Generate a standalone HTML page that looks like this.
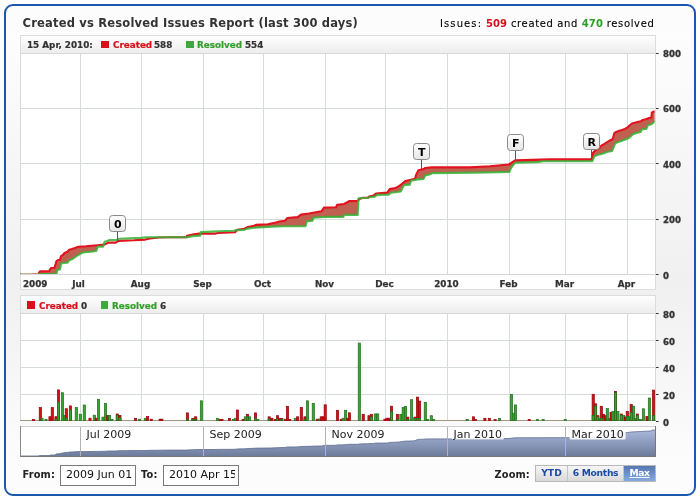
<!DOCTYPE html>
<html><head><meta charset="utf-8"><title>Created vs Resolved Issues Report</title>
<style>
*{margin:0;padding:0;box-sizing:border-box}
html,body{width:700px;height:500px;background:#fff;overflow:hidden}
body{position:relative;font-family:"DejaVu Sans","Liberation Sans",sans-serif;color:#333}
#panel{position:absolute;left:4px;top:4px;width:692px;height:492px;border:2px solid #1a58ad;border-radius:9px;background:#fcfcfc;overflow:hidden}
#cbg{position:absolute;left:0;top:26px;width:688px;height:430px;background:linear-gradient(#fdfdfd,#f0f0f0 58%,#fcfcfc)}
.chart{position:absolute;left:0;top:0}
.chart text{font-family:"DejaVu Sans","Liberation Sans",sans-serif}
.xl{font-size:8.8px;font-weight:bold;fill:#333;stroke:#333;stroke-width:0.25px}
.yl{font-size:8.6px;font-weight:bold;fill:#333;stroke:#333;stroke-width:0.3px}
.nl{font-size:11px;fill:#222}
.flg{font-size:11px;font-weight:bold;fill:#000}
.t{position:absolute;white-space:nowrap}
#title{left:22.5px;top:16px;font-size:11.5px;font-weight:bold;color:#333;letter-spacing:0.2px}
#issues{left:440px;top:17.6px;font-size:10px;color:#000;letter-spacing:0.63px;-webkit-text-stroke:0.1px #000}
#issues b{letter-spacing:0.1px;-webkit-text-stroke:0}#issues b.r{color:#d8101c}
#issues b.g{color:#2e9e2a}
.hl{font-size:8.8px;font-weight:bold;color:#333;-webkit-text-stroke:0.2px currentColor}
.sq{display:inline-block;width:7px;height:7px;vertical-align:0}
.cr{color:#d8101c}.gr{color:#34a02c}
.lbl{font-size:9.8px;font-weight:bold;color:#222;letter-spacing:0.15px}
.inp{position:absolute;height:21px;top:465px;border:1px solid #7a7a7a;background:#fff;font-family:"DejaVu Sans","Liberation Sans",sans-serif;font-size:11px;color:#111;padding:0 3px 2px 5px;outline:none;border-radius:0;appearance:none;-webkit-appearance:none}
#zb{position:absolute;left:535px;top:465px;height:17px;width:121px;border:1px solid #b8b8b8;display:flex}
#zb div{height:15px;background:linear-gradient(#f6f6f6,#d9d9d9);font-size:9.2px;font-weight:bold;color:#1b4aa5;text-align:center;line-height:13px}
#zb .sel{background:linear-gradient(#5577b2,#84aae0);color:#fff;text-decoration:underline}
</style></head><body>
<div id="panel"><div id="cbg"></div></div>
<svg class="chart" width="700" height="500" viewBox="0 0 700 500">
<defs>
<linearGradient id="hdr" x1="0" y1="0" x2="0" y2="1"><stop offset="0" stop-color="#ffffff"/><stop offset="1" stop-color="#ececec"/></linearGradient>
<linearGradient id="nav" x1="0" y1="0" x2="0" y2="1"><stop offset="0" stop-color="#a9b8dc"/><stop offset="1" stop-color="#6e7c9c"/></linearGradient>
<linearGradient id="flag" x1="0" y1="0" x2="0" y2="1"><stop offset="0" stop-color="#ffffff"/><stop offset="1" stop-color="#e6e6e6"/></linearGradient>
<mask id="fm" maskUnits="userSpaceOnUse" x="0" y="0" width="700" height="500">
<polygon fill="#fff" points="20.0,274.0 38.0,274.0 40.0,271.4 49.0,271.2 51.0,268.0 54.5,267.8 56.5,261.0 58.0,260.0 60.0,259.8 61.0,256.2 63.0,255.0 64.5,253.0 67.5,251.8 69.2,249.8 72.0,249.0 75.0,248.0 78.3,246.7 86.0,246.2 97.4,245.2 104.3,244.6 106.0,243.7 108.9,242.6 115.7,242.6 118.6,240.9 134.0,240.3 145.3,239.6 150.0,238.5 159.0,237.5 170.0,237.3 186.6,237.3 187.0,235.9 194.0,234.4 199.7,233.6 215.7,233.6 218.0,233.0 235.0,232.3 237.4,229.8 244.3,228.7 247.9,227.0 254.1,225.7 255.9,224.9 267.9,224.2 270.1,223.7 277.0,222.3 279.3,221.5 285.0,220.8 287.3,218.0 297.6,217.1 301.0,214.6 309.0,213.5 315.9,212.3 321.6,211.2 324.0,207.6 336.0,207.2 337.1,204.9 344.0,204.0 347.4,202.3 349.1,201.1 357.7,201.0 359.4,198.9 363.0,197.7 368.0,197.7 369.1,196.6 373.7,195.4 376.0,193.5 387.4,192.6 389.7,189.1 395.4,188.0 397.7,186.9 399.6,185.7 405.3,181.1 409.9,180.0 415.0,178.9 416.1,174.9 418.4,170.3 423.6,169.1 425.3,168.0 431.6,167.4 470.0,167.4 490.0,166.2 508.9,164.5 515.1,160.4 550.0,159.4 591.6,159.4 592.8,153.0 595.2,150.6 599.2,148.2 601.6,145.4 604.0,144.2 607.2,142.2 610.4,140.2 612.8,139.0 614.4,133.0 616.8,131.8 620.0,130.6 621.2,130.2 624.8,128.9 627.5,127.5 629.8,125.3 632.0,123.5 635.6,122.6 638.3,121.7 641.0,121.2 642.8,119.9 646.4,119.0 649.1,118.1 651.4,117.6 651.8,112.7 653.6,111.5 656.0,111.5 656,274 20,274"/>
<polygon fill="#000" points="20.0,274.0 56.4,274.0 57.6,269.8 60.0,269.4 61.2,263.4 63.6,263.0 67.6,262.6 69.2,260.2 72.6,259.0 76.0,256.4 82.9,252.4 93.1,251.5 96.3,251.0 97.7,246.6 103.1,246.6 104.6,241.7 107.1,241.1 109.4,240.0 116.9,240.0 119.1,238.7 140.7,237.9 146.4,237.2 186.6,237.2 192.9,236.1 200.3,235.6 200.9,232.1 218.0,231.3 234.0,230.8 236.3,230.1 244.3,229.9 247.3,228.6 254.1,227.8 267.9,226.9 282.7,226.3 305.6,226.1 306.7,221.5 312.4,220.8 313.6,217.7 325.0,216.9 343.4,216.9 343.9,214.9 357.7,214.9 358.5,198.3 368.0,197.7 370.3,197.1 374.9,196.6 377.1,194.9 388.6,194.6 390.9,192.8 397.7,192.0 400.7,191.4 404.1,185.1 409.9,184.6 411.0,180.6 417.9,179.4 423.6,178.9 425.3,175.4 430.4,174.3 432.1,173.1 475.0,172.6 509.4,171.9 511.1,167.9 515.1,162.7 537.4,162.1 543.1,161.3 592.4,161.1 594.4,156.2 597.6,155.0 602.4,153.8 605.6,152.6 608.0,151.8 612.0,151.0 613.6,147.4 615.2,143.4 617.6,142.2 621.2,141.0 624.8,139.7 628.4,138.3 631.1,136.1 632.9,134.3 636.5,132.9 640.6,132.0 641.9,129.3 646.4,128.9 647.8,125.3 651.0,124.4 653.6,122.6 656.0,121.2 656,274 20,274"/>
</mask>
<clipPath id="pc"><rect x="20" y="53" width="634.6" height="221.5"/></clipPath>
</defs>
<rect x="20.5" y="35.5" width="635" height="18" fill="url(#hdr)" stroke="#dcdcdc"/>
<rect x="20" y="53" width="636" height="221" fill="#fff"/>
<line x1="80.5" y1="53" x2="80.5" y2="274" stroke="#d6ddd8" stroke-width="1"/>
<line x1="141.5" y1="53" x2="141.5" y2="274" stroke="#d6ddd8" stroke-width="1"/>
<line x1="203.5" y1="53" x2="203.5" y2="274" stroke="#d6ddd8" stroke-width="1"/>
<line x1="263.5" y1="53" x2="263.5" y2="274" stroke="#d6ddd8" stroke-width="1"/>
<line x1="325.5" y1="53" x2="325.5" y2="274" stroke="#d6ddd8" stroke-width="1"/>
<line x1="385.5" y1="53" x2="385.5" y2="274" stroke="#d6ddd8" stroke-width="1"/>
<line x1="447.5" y1="53" x2="447.5" y2="274" stroke="#d6ddd8" stroke-width="1"/>
<line x1="509.5" y1="53" x2="509.5" y2="274" stroke="#d6ddd8" stroke-width="1"/>
<line x1="565.5" y1="53" x2="565.5" y2="274" stroke="#d6ddd8" stroke-width="1"/>
<line x1="627.5" y1="53" x2="627.5" y2="274" stroke="#d6ddd8" stroke-width="1"/>
<line x1="20" y1="219.5" x2="656" y2="219.5" stroke="#d6ddd8" stroke-width="1"/>
<line x1="20" y1="163.5" x2="656" y2="163.5" stroke="#d6ddd8" stroke-width="1"/>
<line x1="20" y1="108.5" x2="656" y2="108.5" stroke="#d6ddd8" stroke-width="1"/>
<line x1="20" y1="53.5" x2="656" y2="53.5" stroke="#d8d8d8"/>
<line x1="20.5" y1="53" x2="20.5" y2="274" stroke="#d8d8d8"/>
<line x1="655.5" y1="53" x2="655.5" y2="274" stroke="#d8d8d8"/>
<rect x="20" y="53" width="634.6" height="221" fill="#c06050" mask="url(#fm)"/>
<g clip-path="url(#pc)" fill="none" stroke-linejoin="round" stroke-linecap="butt">
<polyline points="20.0,274.0 38.0,274.0 40.0,271.4 49.0,271.2 51.0,268.0 54.5,267.8 56.5,261.0 58.0,260.0 60.0,259.8 61.0,256.2 63.0,255.0 64.5,253.0 67.5,251.8 69.2,249.8 72.0,249.0 75.0,248.0 78.3,246.7 86.0,246.2 97.4,245.2 104.3,244.6 106.0,243.7 108.9,242.6 115.7,242.6 118.6,240.9 134.0,240.3 145.3,239.6 150.0,238.5 159.0,237.5 170.0,237.3 186.6,237.3 187.0,235.9 194.0,234.4 199.7,233.6 215.7,233.6 218.0,233.0 235.0,232.3 237.4,229.8 244.3,228.7 247.9,227.0 254.1,225.7 255.9,224.9 267.9,224.2 270.1,223.7 277.0,222.3 279.3,221.5 285.0,220.8 287.3,218.0 297.6,217.1 301.0,214.6 309.0,213.5 315.9,212.3 321.6,211.2 324.0,207.6 336.0,207.2 337.1,204.9 344.0,204.0 347.4,202.3 349.1,201.1 357.7,201.0 359.4,198.9 363.0,197.7 368.0,197.7 369.1,196.6 373.7,195.4 376.0,193.5 387.4,192.6 389.7,189.1 395.4,188.0 397.7,186.9 399.6,185.7 405.3,181.1 409.9,180.0 415.0,178.9 416.1,174.9 418.4,170.3 423.6,169.1 425.3,168.0 431.6,167.4 470.0,167.4 490.0,166.2 508.9,164.5 515.1,160.4 550.0,159.4 591.6,159.4 592.8,153.0 595.2,150.6 599.2,148.2 601.6,145.4 604.0,144.2 607.2,142.2 610.4,140.2 612.8,139.0 614.4,133.0 616.8,131.8 620.0,130.6 621.2,130.2 624.8,128.9 627.5,127.5 629.8,125.3 632.0,123.5 635.6,122.6 638.3,121.7 641.0,121.2 642.8,119.9 646.4,119.0 649.1,118.1 651.4,117.6 651.8,112.7 653.6,111.5 656.0,111.5" stroke="#e2131f" stroke-width="2.1"/>
<polyline points="20.0,274.0 56.4,274.0 57.6,269.8 60.0,269.4 61.2,263.4 63.6,263.0 67.6,262.6 69.2,260.2 72.6,259.0 76.0,256.4 82.9,252.4 93.1,251.5 96.3,251.0 97.7,246.6 103.1,246.6 104.6,241.7 107.1,241.1 109.4,240.0 116.9,240.0 119.1,238.7 140.7,237.9 146.4,237.2 186.6,237.2 192.9,236.1 200.3,235.6 200.9,232.1 218.0,231.3 234.0,230.8 236.3,230.1 244.3,229.9 247.3,228.6 254.1,227.8 267.9,226.9 282.7,226.3 305.6,226.1 306.7,221.5 312.4,220.8 313.6,217.7 325.0,216.9 343.4,216.9 343.9,214.9 357.7,214.9 358.5,198.3 368.0,197.7 370.3,197.1 374.9,196.6 377.1,194.9 388.6,194.6 390.9,192.8 397.7,192.0 400.7,191.4 404.1,185.1 409.9,184.6 411.0,180.6 417.9,179.4 423.6,178.9 425.3,175.4 430.4,174.3 432.1,173.1 475.0,172.6 509.4,171.9 511.1,167.9 515.1,162.7 537.4,162.1 543.1,161.3 592.4,161.1 594.4,156.2 597.6,155.0 602.4,153.8 605.6,152.6 608.0,151.8 612.0,151.0 613.6,147.4 615.2,143.4 617.6,142.2 621.2,141.0 624.8,139.7 628.4,138.3 631.1,136.1 632.9,134.3 636.5,132.9 640.6,132.0 641.9,129.3 646.4,128.9 647.8,125.3 651.0,124.4 653.6,122.6 656.0,121.2" stroke="#36b236" stroke-opacity="0.86" stroke-width="2.1"/>
</g>
<rect x="21" y="272.6" width="17" height="1.6" fill="#ffffff"/>
<rect x="21" y="273" width="11" height="1.2" fill="#c8b890"/>
<rect x="32" y="273" width="6.5" height="1.2" fill="#c89070"/>
<line x1="117.5" y1="231.5" x2="117.5" y2="241.5" stroke="#555" stroke-width="1"/>
<rect x="109.5" y="215.5" width="16" height="16" rx="3" ry="3" fill="url(#flag)" stroke="#8a8a8a" stroke-width="1"/>
<text x="117.8" y="228.1" class="flg" text-anchor="middle">0</text>
<line x1="421.5" y1="159.5" x2="421.5" y2="170.0" stroke="#555" stroke-width="1"/>
<rect x="413.5" y="143.5" width="16" height="16" rx="3" ry="3" fill="url(#flag)" stroke="#8a8a8a" stroke-width="1"/>
<text x="421.8" y="156.1" class="flg" text-anchor="middle">T</text>
<line x1="515.5" y1="150.5" x2="515.5" y2="160.5" stroke="#555" stroke-width="1"/>
<rect x="507.5" y="134.5" width="16" height="16" rx="3" ry="3" fill="url(#flag)" stroke="#8a8a8a" stroke-width="1"/>
<text x="515.8" y="147.1" class="flg" text-anchor="middle">F</text>
<line x1="591.5" y1="149.5" x2="591.5" y2="159.0" stroke="#555" stroke-width="1"/>
<rect x="583.5" y="133.5" width="16" height="16" rx="3" ry="3" fill="url(#flag)" stroke="#8a8a8a" stroke-width="1"/>
<text x="591.8" y="146.1" class="flg" text-anchor="middle">R</text>
<rect x="20.5" y="274.5" width="635" height="15" fill="#fff" stroke="#dcdcdc"/>
<line x1="20" y1="274.5" x2="656" y2="274.5" stroke="#d6d6d6"/>
<text x="23" y="287" class="xl">2009</text>
<text x="78.5" y="287" class="xl" text-anchor="middle">Jul</text>
<text x="140.5" y="287" class="xl" text-anchor="middle">Aug</text>
<text x="202.5" y="287" class="xl" text-anchor="middle">Sep</text>
<text x="262.5" y="287" class="xl" text-anchor="middle">Oct</text>
<text x="324.5" y="287" class="xl" text-anchor="middle">Nov</text>
<text x="384.5" y="287" class="xl" text-anchor="middle">Dec</text>
<text x="446.5" y="287" class="xl" text-anchor="middle">2010</text>
<text x="508.5" y="287" class="xl" text-anchor="middle">Feb</text>
<text x="564.5" y="287" class="xl" text-anchor="middle">Mar</text>
<text x="626.5" y="287" class="xl" text-anchor="middle">Apr</text>
<line x1="656" y1="274.5" x2="658.6" y2="274.5" stroke="#333" stroke-width="1"/>
<text x="663" y="279.0" class="yl">0</text>
<line x1="656" y1="219.5" x2="658.6" y2="219.5" stroke="#333" stroke-width="1"/>
<text x="663" y="223.0" class="yl">200</text>
<line x1="656" y1="163.5" x2="658.6" y2="163.5" stroke="#333" stroke-width="1"/>
<text x="663" y="168.0" class="yl">400</text>
<line x1="656" y1="108.5" x2="658.6" y2="108.5" stroke="#333" stroke-width="1"/>
<text x="663" y="112.0" class="yl">600</text>
<line x1="656" y1="53.5" x2="658.6" y2="53.5" stroke="#333" stroke-width="1"/>
<text x="663" y="57.0" class="yl">800</text>
<rect x="20.5" y="295.5" width="635" height="18" fill="url(#hdr)" stroke="#dcdcdc"/>
<rect x="20" y="313" width="636" height="108" fill="#fff"/>
<line x1="80.5" y1="313" x2="80.5" y2="421" stroke="#d6ddd8"/>
<line x1="141.5" y1="313" x2="141.5" y2="421" stroke="#d6ddd8"/>
<line x1="203.5" y1="313" x2="203.5" y2="421" stroke="#d6ddd8"/>
<line x1="263.5" y1="313" x2="263.5" y2="421" stroke="#d6ddd8"/>
<line x1="325.5" y1="313" x2="325.5" y2="421" stroke="#d6ddd8"/>
<line x1="385.5" y1="313" x2="385.5" y2="421" stroke="#d6ddd8"/>
<line x1="447.5" y1="313" x2="447.5" y2="421" stroke="#d6ddd8"/>
<line x1="509.5" y1="313" x2="509.5" y2="421" stroke="#d6ddd8"/>
<line x1="565.5" y1="313" x2="565.5" y2="421" stroke="#d6ddd8"/>
<line x1="627.5" y1="313" x2="627.5" y2="421" stroke="#d6ddd8"/>
<line x1="20" y1="394.5" x2="656" y2="394.5" stroke="#d6ddd8"/>
<line x1="20" y1="367.5" x2="656" y2="367.5" stroke="#d6ddd8"/>
<line x1="20" y1="340.5" x2="656" y2="340.5" stroke="#d6ddd8"/>
<line x1="20" y1="313.5" x2="656" y2="313.5" stroke="#d6ddd8"/>
<line x1="20" y1="313.5" x2="656" y2="313.5" stroke="#d8d8d8"/>
<line x1="20.5" y1="313" x2="20.5" y2="421" stroke="#d8d8d8"/>
<line x1="655.5" y1="313" x2="655.5" y2="421" stroke="#d8d8d8"/>
<line x1="20" y1="420.5" x2="656" y2="420.5" stroke="#a09a80"/>
<rect x="32.6" y="419.5" width="2.2" height="1.1" fill="#d01018" stroke="#980008" stroke-width="0.7"/>
<rect x="39.2" y="407.6" width="2.2" height="13.0" fill="#d01018" stroke="#980008" stroke-width="0.7"/>
<rect x="40.9" y="418.2" width="2.2" height="2.4" fill="#3aa233" stroke="#1f7019" stroke-width="0.7"/>
<rect x="44.9" y="419.3" width="2.2" height="1.3" fill="#3aa233" stroke="#1f7019" stroke-width="0.7"/>
<rect x="48.9" y="416.7" width="2.2" height="3.9" fill="#d01018" stroke="#980008" stroke-width="0.7"/>
<rect x="51.2" y="407.6" width="2.2" height="13.0" fill="#d01018" stroke="#980008" stroke-width="0.7"/>
<rect x="54.9" y="416.7" width="2.2" height="3.9" fill="#d01018" stroke="#980008" stroke-width="0.7"/>
<rect x="54.9" y="419.0" width="2.2" height="1.6" fill="#3aa233" stroke="#1f7019" stroke-width="0.7"/>
<rect x="57.4" y="389.9" width="2.2" height="30.7" fill="#d01018" stroke="#980008" stroke-width="0.7"/>
<rect x="57.4" y="402.1" width="2.2" height="18.5" fill="#3aa233" stroke="#1f7019" stroke-width="0.7"/>
<rect x="61.4" y="392.7" width="2.2" height="27.9" fill="#3aa233" stroke="#1f7019" stroke-width="0.7"/>
<rect x="63.7" y="415.6" width="2.2" height="5.0" fill="#3aa233" stroke="#1f7019" stroke-width="0.7"/>
<rect x="65.2" y="408.7" width="2.2" height="11.9" fill="#d01018" stroke="#980008" stroke-width="0.7"/>
<rect x="65.2" y="418.4" width="2.2" height="2.2" fill="#3aa233" stroke="#1f7019" stroke-width="0.7"/>
<rect x="69.3" y="405.9" width="2.2" height="14.7" fill="#d01018" stroke="#980008" stroke-width="0.7"/>
<rect x="69.3" y="409.9" width="2.2" height="10.7" fill="#3aa233" stroke="#1f7019" stroke-width="0.7"/>
<rect x="75.2" y="407.6" width="2.2" height="13.0" fill="#3aa233" stroke="#1f7019" stroke-width="0.7"/>
<rect x="79.2" y="414.2" width="2.2" height="6.4" fill="#3aa233" stroke="#1f7019" stroke-width="0.7"/>
<rect x="83.2" y="405.0" width="2.2" height="15.6" fill="#3aa233" stroke="#1f7019" stroke-width="0.7"/>
<rect x="88.9" y="418.2" width="2.2" height="2.4" fill="#d01018" stroke="#980008" stroke-width="0.7"/>
<rect x="93.2" y="415.2" width="2.2" height="5.4" fill="#3aa233" stroke="#1f7019" stroke-width="0.7"/>
<rect x="95.2" y="418.2" width="2.2" height="2.4" fill="#d01018" stroke="#980008" stroke-width="0.7"/>
<rect x="97.4" y="399.3" width="2.2" height="21.3" fill="#3aa233" stroke="#1f7019" stroke-width="0.7"/>
<rect x="101.9" y="417.1" width="2.2" height="3.5" fill="#3aa233" stroke="#1f7019" stroke-width="0.7"/>
<rect x="104.4" y="403.4" width="2.2" height="17.2" fill="#3aa233" stroke="#1f7019" stroke-width="0.7"/>
<rect x="106.7" y="415.4" width="2.2" height="5.2" fill="#d01018" stroke="#980008" stroke-width="0.7"/>
<rect x="108.5" y="415.4" width="2.2" height="5.2" fill="#3aa233" stroke="#1f7019" stroke-width="0.7"/>
<rect x="110.8" y="419.4" width="2.2" height="1.2" fill="#3aa233" stroke="#1f7019" stroke-width="0.7"/>
<rect x="116.2" y="414.0" width="2.2" height="6.6" fill="#d01018" stroke="#980008" stroke-width="0.7"/>
<rect x="116.2" y="415.2" width="2.2" height="5.4" fill="#3aa233" stroke="#1f7019" stroke-width="0.7"/>
<rect x="118.8" y="415.4" width="2.2" height="5.2" fill="#d01018" stroke="#980008" stroke-width="0.7"/>
<rect x="118.8" y="417.7" width="2.2" height="2.9" fill="#3aa233" stroke="#1f7019" stroke-width="0.7"/>
<rect x="134.5" y="418.3" width="2.2" height="2.3" fill="#d01018" stroke="#980008" stroke-width="0.7"/>
<rect x="138.5" y="419.2" width="2.2" height="1.4" fill="#3aa233" stroke="#1f7019" stroke-width="0.7"/>
<rect x="144.2" y="418.3" width="2.2" height="2.3" fill="#3aa233" stroke="#1f7019" stroke-width="0.7"/>
<rect x="146.5" y="416.6" width="2.2" height="4.0" fill="#d01018" stroke="#980008" stroke-width="0.7"/>
<rect x="150.2" y="419.2" width="2.2" height="1.4" fill="#d01018" stroke="#980008" stroke-width="0.7"/>
<rect x="159.0" y="419.2" width="2.2" height="1.4" fill="#d01018" stroke="#980008" stroke-width="0.7"/>
<rect x="160.8" y="419.2" width="2.2" height="1.4" fill="#d01018" stroke="#980008" stroke-width="0.7"/>
<rect x="186.3" y="412.9" width="2.2" height="7.7" fill="#d01018" stroke="#980008" stroke-width="0.7"/>
<rect x="186.3" y="419.4" width="2.2" height="1.2" fill="#3aa233" stroke="#1f7019" stroke-width="0.7"/>
<rect x="191.8" y="418.3" width="2.2" height="2.3" fill="#d01018" stroke="#980008" stroke-width="0.7"/>
<rect x="191.8" y="419.4" width="2.2" height="1.2" fill="#3aa233" stroke="#1f7019" stroke-width="0.7"/>
<rect x="194.6" y="416.8" width="2.2" height="3.8" fill="#d01018" stroke="#980008" stroke-width="0.7"/>
<rect x="194.6" y="419.4" width="2.2" height="1.2" fill="#3aa233" stroke="#1f7019" stroke-width="0.7"/>
<rect x="200.3" y="400.8" width="2.2" height="19.8" fill="#3aa233" stroke="#1f7019" stroke-width="0.7"/>
<rect x="216.3" y="418.3" width="2.2" height="2.3" fill="#3aa233" stroke="#1f7019" stroke-width="0.7"/>
<rect x="219.2" y="419.3" width="2.2" height="1.3" fill="#d01018" stroke="#980008" stroke-width="0.7"/>
<rect x="220.9" y="419.3" width="2.2" height="1.3" fill="#d01018" stroke="#980008" stroke-width="0.7"/>
<rect x="228.3" y="418.3" width="2.2" height="2.3" fill="#d01018" stroke="#980008" stroke-width="0.7"/>
<rect x="232.3" y="419.4" width="2.2" height="1.2" fill="#3aa233" stroke="#1f7019" stroke-width="0.7"/>
<rect x="234.3" y="418.3" width="2.2" height="2.3" fill="#3aa233" stroke="#1f7019" stroke-width="0.7"/>
<rect x="236.3" y="410.0" width="2.2" height="10.6" fill="#d01018" stroke="#980008" stroke-width="0.7"/>
<rect x="242.0" y="419.3" width="2.2" height="1.3" fill="#d01018" stroke="#980008" stroke-width="0.7"/>
<rect x="244.2" y="416.8" width="2.2" height="3.8" fill="#3aa233" stroke="#1f7019" stroke-width="0.7"/>
<rect x="246.4" y="414.3" width="2.2" height="6.3" fill="#d01018" stroke="#980008" stroke-width="0.7"/>
<rect x="246.4" y="416.8" width="2.2" height="3.8" fill="#3aa233" stroke="#1f7019" stroke-width="0.7"/>
<rect x="248.5" y="416.8" width="2.2" height="3.8" fill="#3aa233" stroke="#1f7019" stroke-width="0.7"/>
<rect x="254.4" y="412.9" width="2.2" height="7.7" fill="#d01018" stroke="#980008" stroke-width="0.7"/>
<rect x="254.4" y="418.6" width="2.2" height="2.0" fill="#3aa233" stroke="#1f7019" stroke-width="0.7"/>
<rect x="256.7" y="419.4" width="2.2" height="1.2" fill="#3aa233" stroke="#1f7019" stroke-width="0.7"/>
<rect x="268.1" y="416.8" width="2.2" height="3.8" fill="#d01018" stroke="#980008" stroke-width="0.7"/>
<rect x="268.1" y="419.0" width="2.2" height="1.6" fill="#3aa233" stroke="#1f7019" stroke-width="0.7"/>
<rect x="270.8" y="418.3" width="2.2" height="2.3" fill="#d01018" stroke="#980008" stroke-width="0.7"/>
<rect x="274.2" y="419.4" width="2.2" height="1.2" fill="#d01018" stroke="#980008" stroke-width="0.7"/>
<rect x="276.5" y="415.7" width="2.2" height="4.9" fill="#d01018" stroke="#980008" stroke-width="0.7"/>
<rect x="276.5" y="419.0" width="2.2" height="1.6" fill="#3aa233" stroke="#1f7019" stroke-width="0.7"/>
<rect x="278.8" y="418.5" width="2.2" height="2.1" fill="#d01018" stroke="#980008" stroke-width="0.7"/>
<rect x="280.7" y="418.5" width="2.2" height="2.1" fill="#d01018" stroke="#980008" stroke-width="0.7"/>
<rect x="280.7" y="419.2" width="2.2" height="1.4" fill="#3aa233" stroke="#1f7019" stroke-width="0.7"/>
<rect x="284.5" y="419.2" width="2.2" height="1.4" fill="#d01018" stroke="#980008" stroke-width="0.7"/>
<rect x="286.4" y="406.3" width="2.2" height="14.3" fill="#d01018" stroke="#980008" stroke-width="0.7"/>
<rect x="288.7" y="419.4" width="2.2" height="1.2" fill="#d01018" stroke="#980008" stroke-width="0.7"/>
<rect x="294.2" y="418.3" width="2.2" height="2.3" fill="#3aa233" stroke="#1f7019" stroke-width="0.7"/>
<rect x="296.5" y="416.8" width="2.2" height="3.8" fill="#d01018" stroke="#980008" stroke-width="0.7"/>
<rect x="300.2" y="407.4" width="2.2" height="13.2" fill="#d01018" stroke="#980008" stroke-width="0.7"/>
<rect x="303.9" y="416.8" width="2.2" height="3.8" fill="#d01018" stroke="#980008" stroke-width="0.7"/>
<rect x="303.9" y="419.4" width="2.2" height="1.2" fill="#3aa233" stroke="#1f7019" stroke-width="0.7"/>
<rect x="306.4" y="400.8" width="2.2" height="19.8" fill="#3aa233" stroke="#1f7019" stroke-width="0.7"/>
<rect x="312.2" y="403.4" width="2.2" height="17.2" fill="#3aa233" stroke="#1f7019" stroke-width="0.7"/>
<rect x="316.1" y="419.2" width="2.2" height="1.4" fill="#d01018" stroke="#980008" stroke-width="0.7"/>
<rect x="318.4" y="419.0" width="2.2" height="1.6" fill="#3aa233" stroke="#1f7019" stroke-width="0.7"/>
<rect x="320.2" y="416.8" width="2.2" height="3.8" fill="#d01018" stroke="#980008" stroke-width="0.7"/>
<rect x="322.0" y="416.8" width="2.2" height="3.8" fill="#d01018" stroke="#980008" stroke-width="0.7"/>
<rect x="324.1" y="404.8" width="2.2" height="15.8" fill="#d01018" stroke="#980008" stroke-width="0.7"/>
<rect x="336.4" y="410.3" width="2.2" height="10.3" fill="#d01018" stroke="#980008" stroke-width="0.7"/>
<rect x="340.2" y="419.3" width="2.2" height="1.3" fill="#d01018" stroke="#980008" stroke-width="0.7"/>
<rect x="342.0" y="418.2" width="2.2" height="2.4" fill="#3aa233" stroke="#1f7019" stroke-width="0.7"/>
<rect x="344.5" y="410.3" width="2.2" height="10.3" fill="#3aa233" stroke="#1f7019" stroke-width="0.7"/>
<rect x="346.8" y="418.2" width="2.2" height="2.4" fill="#d01018" stroke="#980008" stroke-width="0.7"/>
<rect x="348.3" y="412.8" width="2.2" height="7.8" fill="#d01018" stroke="#980008" stroke-width="0.7"/>
<rect x="358.2" y="343.1" width="2.2" height="77.5" fill="#3aa233" stroke="#1f7019" stroke-width="0.7"/>
<rect x="362.1" y="414.3" width="2.2" height="6.3" fill="#d01018" stroke="#980008" stroke-width="0.7"/>
<rect x="367.9" y="415.7" width="2.2" height="4.9" fill="#d01018" stroke="#980008" stroke-width="0.7"/>
<rect x="370.3" y="414.3" width="2.2" height="6.3" fill="#d01018" stroke="#980008" stroke-width="0.7"/>
<rect x="370.3" y="417.0" width="2.2" height="3.6" fill="#3aa233" stroke="#1f7019" stroke-width="0.7"/>
<rect x="374.2" y="413.9" width="2.2" height="6.7" fill="#3aa233" stroke="#1f7019" stroke-width="0.7"/>
<rect x="376.6" y="413.9" width="2.2" height="6.7" fill="#3aa233" stroke="#1f7019" stroke-width="0.7"/>
<rect x="383.8" y="419.2" width="2.2" height="1.4" fill="#d01018" stroke="#980008" stroke-width="0.7"/>
<rect x="385.9" y="418.2" width="2.2" height="2.4" fill="#d01018" stroke="#980008" stroke-width="0.7"/>
<rect x="387.9" y="418.2" width="2.2" height="2.4" fill="#d01018" stroke="#980008" stroke-width="0.7"/>
<rect x="390.4" y="406.2" width="2.2" height="14.4" fill="#d01018" stroke="#980008" stroke-width="0.7"/>
<rect x="390.4" y="411.6" width="2.2" height="9.0" fill="#3aa233" stroke="#1f7019" stroke-width="0.7"/>
<rect x="396.3" y="414.3" width="2.2" height="6.3" fill="#d01018" stroke="#980008" stroke-width="0.7"/>
<rect x="396.3" y="419.4" width="2.2" height="1.2" fill="#3aa233" stroke="#1f7019" stroke-width="0.7"/>
<rect x="399.8" y="414.3" width="2.2" height="6.3" fill="#3aa233" stroke="#1f7019" stroke-width="0.7"/>
<rect x="402.1" y="407.4" width="2.2" height="13.2" fill="#3aa233" stroke="#1f7019" stroke-width="0.7"/>
<rect x="404.4" y="406.5" width="2.2" height="14.1" fill="#3aa233" stroke="#1f7019" stroke-width="0.7"/>
<rect x="406.7" y="417.1" width="2.2" height="3.5" fill="#d01018" stroke="#980008" stroke-width="0.7"/>
<rect x="406.7" y="419.5" width="2.2" height="1.1" fill="#3aa233" stroke="#1f7019" stroke-width="0.7"/>
<rect x="410.5" y="399.7" width="2.2" height="20.9" fill="#3aa233" stroke="#1f7019" stroke-width="0.7"/>
<rect x="413.9" y="417.1" width="2.2" height="3.5" fill="#d01018" stroke="#980008" stroke-width="0.7"/>
<rect x="413.9" y="418.6" width="2.2" height="2.0" fill="#3aa233" stroke="#1f7019" stroke-width="0.7"/>
<rect x="416.4" y="397.1" width="2.2" height="23.5" fill="#d01018" stroke="#980008" stroke-width="0.7"/>
<rect x="416.4" y="418.6" width="2.2" height="2.0" fill="#3aa233" stroke="#1f7019" stroke-width="0.7"/>
<rect x="418.5" y="401.1" width="2.2" height="19.5" fill="#d01018" stroke="#980008" stroke-width="0.7"/>
<rect x="418.5" y="418.6" width="2.2" height="2.0" fill="#3aa233" stroke="#1f7019" stroke-width="0.7"/>
<rect x="424.2" y="402.3" width="2.2" height="18.3" fill="#3aa233" stroke="#1f7019" stroke-width="0.7"/>
<rect x="426.5" y="419.6" width="2.2" height="1.0" fill="#3aa233" stroke="#1f7019" stroke-width="0.7"/>
<rect x="430.2" y="415.7" width="2.2" height="4.9" fill="#3aa233" stroke="#1f7019" stroke-width="0.7"/>
<rect x="432.5" y="419.6" width="2.2" height="1.0" fill="#3aa233" stroke="#1f7019" stroke-width="0.7"/>
<rect x="466.1" y="419.4" width="2.2" height="1.2" fill="#3aa233" stroke="#1f7019" stroke-width="0.7"/>
<rect x="472.3" y="416.8" width="2.2" height="3.8" fill="#d01018" stroke="#980008" stroke-width="0.7"/>
<rect x="474.4" y="419.5" width="2.2" height="1.1" fill="#d01018" stroke="#980008" stroke-width="0.7"/>
<rect x="483.8" y="418.3" width="2.2" height="2.3" fill="#d01018" stroke="#980008" stroke-width="0.7"/>
<rect x="488.3" y="418.3" width="2.2" height="2.3" fill="#d01018" stroke="#980008" stroke-width="0.7"/>
<rect x="494.0" y="419.5" width="2.2" height="1.1" fill="#d01018" stroke="#980008" stroke-width="0.7"/>
<rect x="498.4" y="418.3" width="2.2" height="2.3" fill="#3aa233" stroke="#1f7019" stroke-width="0.7"/>
<rect x="510.3" y="394.3" width="2.2" height="26.3" fill="#3aa233" stroke="#1f7019" stroke-width="0.7"/>
<rect x="512.3" y="413.1" width="2.2" height="7.5" fill="#3aa233" stroke="#1f7019" stroke-width="0.7"/>
<rect x="514.4" y="404.9" width="2.2" height="15.7" fill="#3aa233" stroke="#1f7019" stroke-width="0.7"/>
<rect x="528.1" y="419.5" width="2.2" height="1.1" fill="#d01018" stroke="#980008" stroke-width="0.7"/>
<rect x="536.3" y="419.5" width="2.2" height="1.1" fill="#3aa233" stroke="#1f7019" stroke-width="0.7"/>
<rect x="542.0" y="419.5" width="2.2" height="1.1" fill="#3aa233" stroke="#1f7019" stroke-width="0.7"/>
<rect x="564.2" y="419.5" width="2.2" height="1.1" fill="#3aa233" stroke="#1f7019" stroke-width="0.7"/>
<rect x="592.1" y="394.3" width="2.2" height="26.3" fill="#d01018" stroke="#980008" stroke-width="0.7"/>
<rect x="592.1" y="415.4" width="2.2" height="5.2" fill="#3aa233" stroke="#1f7019" stroke-width="0.7"/>
<rect x="594.5" y="403.8" width="2.2" height="16.8" fill="#d01018" stroke="#980008" stroke-width="0.7"/>
<rect x="594.5" y="406.1" width="2.2" height="14.5" fill="#3aa233" stroke="#1f7019" stroke-width="0.7"/>
<rect x="596.7" y="415.7" width="2.2" height="4.9" fill="#d01018" stroke="#980008" stroke-width="0.7"/>
<rect x="596.7" y="416.8" width="2.2" height="3.8" fill="#3aa233" stroke="#1f7019" stroke-width="0.7"/>
<rect x="598.8" y="418.9" width="2.2" height="1.7" fill="#3aa233" stroke="#1f7019" stroke-width="0.7"/>
<rect x="600.2" y="406.3" width="2.2" height="14.3" fill="#d01018" stroke="#980008" stroke-width="0.7"/>
<rect x="600.2" y="418.3" width="2.2" height="2.3" fill="#3aa233" stroke="#1f7019" stroke-width="0.7"/>
<rect x="602.4" y="414.3" width="2.2" height="6.3" fill="#d01018" stroke="#980008" stroke-width="0.7"/>
<rect x="602.4" y="418.3" width="2.2" height="2.3" fill="#3aa233" stroke="#1f7019" stroke-width="0.7"/>
<rect x="604.2" y="415.7" width="2.2" height="4.9" fill="#d01018" stroke="#980008" stroke-width="0.7"/>
<rect x="606.2" y="408.6" width="2.2" height="12.0" fill="#3aa233" stroke="#1f7019" stroke-width="0.7"/>
<rect x="608.1" y="418.6" width="2.2" height="2.0" fill="#3aa233" stroke="#1f7019" stroke-width="0.7"/>
<rect x="610.0" y="412.6" width="2.2" height="8.0" fill="#d01018" stroke="#980008" stroke-width="0.7"/>
<rect x="611.9" y="411.4" width="2.2" height="9.2" fill="#3aa233" stroke="#1f7019" stroke-width="0.7"/>
<rect x="614.4" y="391.4" width="2.2" height="29.2" fill="#d01018" stroke="#980008" stroke-width="0.7"/>
<rect x="614.4" y="392.7" width="2.2" height="27.9" fill="#3aa233" stroke="#1f7019" stroke-width="0.7"/>
<rect x="616.7" y="411.4" width="2.2" height="9.2" fill="#3aa233" stroke="#1f7019" stroke-width="0.7"/>
<rect x="620.2" y="414.0" width="2.2" height="6.6" fill="#d01018" stroke="#980008" stroke-width="0.7"/>
<rect x="620.2" y="415.1" width="2.2" height="5.5" fill="#3aa233" stroke="#1f7019" stroke-width="0.7"/>
<rect x="622.5" y="415.6" width="2.2" height="5.0" fill="#3aa233" stroke="#1f7019" stroke-width="0.7"/>
<rect x="624.3" y="417.0" width="2.2" height="3.6" fill="#d01018" stroke="#980008" stroke-width="0.7"/>
<rect x="626.2" y="411.4" width="2.2" height="9.2" fill="#d01018" stroke="#980008" stroke-width="0.7"/>
<rect x="626.2" y="416.5" width="2.2" height="4.1" fill="#3aa233" stroke="#1f7019" stroke-width="0.7"/>
<rect x="628.1" y="416.8" width="2.2" height="3.8" fill="#3aa233" stroke="#1f7019" stroke-width="0.7"/>
<rect x="630.1" y="404.5" width="2.2" height="16.1" fill="#d01018" stroke="#980008" stroke-width="0.7"/>
<rect x="630.1" y="412.4" width="2.2" height="8.2" fill="#3aa233" stroke="#1f7019" stroke-width="0.7"/>
<rect x="632.4" y="406.1" width="2.2" height="14.5" fill="#3aa233" stroke="#1f7019" stroke-width="0.7"/>
<rect x="634.2" y="418.7" width="2.2" height="1.9" fill="#3aa233" stroke="#1f7019" stroke-width="0.7"/>
<rect x="636.2" y="414.0" width="2.2" height="6.6" fill="#d01018" stroke="#980008" stroke-width="0.7"/>
<rect x="636.2" y="415.3" width="2.2" height="5.3" fill="#3aa233" stroke="#1f7019" stroke-width="0.7"/>
<rect x="639.6" y="419.5" width="2.2" height="1.1" fill="#3aa233" stroke="#1f7019" stroke-width="0.7"/>
<rect x="642.3" y="408.8" width="2.2" height="11.8" fill="#3aa233" stroke="#1f7019" stroke-width="0.7"/>
<rect x="645.9" y="416.5" width="2.2" height="4.1" fill="#d01018" stroke="#980008" stroke-width="0.7"/>
<rect x="648.3" y="398.0" width="2.2" height="22.6" fill="#3aa233" stroke="#1f7019" stroke-width="0.7"/>
<rect x="652.5" y="390.1" width="2.2" height="30.5" fill="#d01018" stroke="#980008" stroke-width="0.7"/>
<rect x="652.5" y="415.3" width="2.2" height="5.3" fill="#3aa233" stroke="#1f7019" stroke-width="0.7"/>
<line x1="656" y1="421.5" x2="658.6" y2="421.5" stroke="#333"/>
<text x="663" y="426.0" class="yl">0</text>
<line x1="656" y1="394.5" x2="658.6" y2="394.5" stroke="#333"/>
<text x="663" y="399.0" class="yl">20</text>
<line x1="656" y1="367.5" x2="658.6" y2="367.5" stroke="#333"/>
<text x="663" y="372.0" class="yl">40</text>
<line x1="656" y1="340.5" x2="658.6" y2="340.5" stroke="#333"/>
<text x="663" y="345.0" class="yl">60</text>
<line x1="656" y1="313.5" x2="658.6" y2="313.5" stroke="#333"/>
<text x="663" y="318.0" class="yl">80</text>
<rect x="20.5" y="426.5" width="635" height="29.5" fill="#fff" stroke="none"/>
<polygon points="20.0,456.0 38.0,456.0 40.0,455.6 49.0,455.6 51.0,455.0 54.5,455.0 56.5,453.9 58.0,453.8 60.0,453.7 61.0,453.2 63.0,453.0 64.5,452.6 67.5,452.4 69.2,452.1 72.0,452.0 75.0,451.8 78.3,451.6 86.0,451.6 97.4,451.4 104.3,451.3 106.0,451.2 108.9,451.0 115.7,451.0 118.6,450.7 134.0,450.6 145.3,450.5 150.0,450.3 159.0,450.2 170.0,450.1 186.6,450.1 187.0,449.9 194.0,449.7 199.7,449.5 215.7,449.5 218.0,449.4 235.0,449.3 237.4,448.9 244.3,448.8 247.9,448.5 254.1,448.3 255.9,448.1 267.9,448.0 270.1,448.0 277.0,447.7 279.3,447.6 285.0,447.5 287.3,447.0 297.6,446.9 301.0,446.5 309.0,446.3 315.9,446.1 321.6,446.0 324.0,445.4 336.0,445.3 337.1,444.9 344.0,444.8 347.4,444.5 349.1,444.3 357.7,444.3 359.4,444.0 363.0,443.8 368.0,443.8 369.1,443.6 373.7,443.4 376.0,443.1 387.4,443.0 389.7,442.4 395.4,442.2 397.7,442.1 399.6,441.9 405.3,441.1 409.9,441.0 415.0,440.8 416.1,440.1 418.4,439.4 423.6,439.2 425.3,439.0 431.6,438.9 470.0,438.9 490.0,438.8 508.9,438.5 515.1,437.8 550.0,437.7 591.6,437.7 592.8,436.6 595.2,436.3 599.2,435.9 601.6,435.4 604.0,435.2 607.2,434.9 610.4,434.6 612.8,434.4 614.4,433.4 616.8,433.2 620.0,433.1 621.2,433.0 624.8,432.8 627.5,432.6 629.8,432.2 632.0,431.9 635.6,431.8 638.3,431.6 641.0,431.6 642.8,431.3 646.4,431.2 649.1,431.1 651.4,431.0 651.8,430.2 653.6,430.0 656.0,430.0 656,456 20,456" fill="url(#nav)"/>
<polyline points="20.0,456.0 38.0,456.0 40.0,455.6 49.0,455.6 51.0,455.0 54.5,455.0 56.5,453.9 58.0,453.8 60.0,453.7 61.0,453.2 63.0,453.0 64.5,452.6 67.5,452.4 69.2,452.1 72.0,452.0 75.0,451.8 78.3,451.6 86.0,451.6 97.4,451.4 104.3,451.3 106.0,451.2 108.9,451.0 115.7,451.0 118.6,450.7 134.0,450.6 145.3,450.5 150.0,450.3 159.0,450.2 170.0,450.1 186.6,450.1 187.0,449.9 194.0,449.7 199.7,449.5 215.7,449.5 218.0,449.4 235.0,449.3 237.4,448.9 244.3,448.8 247.9,448.5 254.1,448.3 255.9,448.1 267.9,448.0 270.1,448.0 277.0,447.7 279.3,447.6 285.0,447.5 287.3,447.0 297.6,446.9 301.0,446.5 309.0,446.3 315.9,446.1 321.6,446.0 324.0,445.4 336.0,445.3 337.1,444.9 344.0,444.8 347.4,444.5 349.1,444.3 357.7,444.3 359.4,444.0 363.0,443.8 368.0,443.8 369.1,443.6 373.7,443.4 376.0,443.1 387.4,443.0 389.7,442.4 395.4,442.2 397.7,442.1 399.6,441.9 405.3,441.1 409.9,441.0 415.0,440.8 416.1,440.1 418.4,439.4 423.6,439.2 425.3,439.0 431.6,438.9 470.0,438.9 490.0,438.8 508.9,438.5 515.1,437.8 550.0,437.7 591.6,437.7 592.8,436.6 595.2,436.3 599.2,435.9 601.6,435.4 604.0,435.2 607.2,434.9 610.4,434.6 612.8,434.4 614.4,433.4 616.8,433.2 620.0,433.1 621.2,433.0 624.8,432.8 627.5,432.6 629.8,432.2 632.0,431.9 635.6,431.8 638.3,431.6 641.0,431.6 642.8,431.3 646.4,431.2 649.1,431.1 651.4,431.0 651.8,430.2 653.6,430.0 656.0,430.0" fill="none" stroke="#5d6c90" stroke-width="0.8"/>
<line x1="80.5" y1="426" x2="80.5" y2="456" stroke="#b4b4b4"/>
<rect x="84.5" y="427" width="48.8" height="12.5" rx="1.5" fill="#fff" fill-opacity="0.88"/>
<text x="86.5" y="438" class="nl">Jul 2009</text>
<line x1="203.5" y1="426" x2="203.5" y2="456" stroke="#b4b4b4"/>
<rect x="207.5" y="427" width="56.2" height="12.5" rx="1.5" fill="#fff" fill-opacity="0.88"/>
<text x="209.5" y="438" class="nl">Sep 2009</text>
<line x1="325.5" y1="426" x2="325.5" y2="456" stroke="#b4b4b4"/>
<rect x="329.5" y="427" width="57.0" height="12.5" rx="1.5" fill="#fff" fill-opacity="0.88"/>
<text x="331.5" y="438" class="nl">Nov 2009</text>
<line x1="447.5" y1="426" x2="447.5" y2="456" stroke="#b4b4b4"/>
<rect x="451.5" y="427" width="52.5" height="12.5" rx="1.5" fill="#fff" fill-opacity="0.88"/>
<text x="453.5" y="438" class="nl">Jan 2010</text>
<line x1="565.5" y1="426" x2="565.5" y2="456" stroke="#b4b4b4"/>
<rect x="569.5" y="427" width="56.2" height="12.5" rx="1.5" fill="#fff" fill-opacity="0.88"/>
<text x="571.5" y="438" class="nl">Mar 2010</text>
<line x1="20" y1="426.5" x2="656" y2="426.5" stroke="#cfcfcf"/>
<line x1="20" y1="456.5" x2="656" y2="456.5" stroke="#777"/>
<line x1="20.5" y1="426" x2="20.5" y2="457" stroke="#888"/>
<line x1="655.5" y1="426" x2="655.5" y2="457" stroke="#777"/>
</svg>
<div class="t" id="title">Created vs Resolved Issues Report (last 300 days)</div>
<div class="t" id="issues"><span style="letter-spacing:1.1px">Issues:</span> <b class="r">509</b> created and <b class="g">470</b> resolved</div>
<div class="t hl" style="left:27px;top:40px">15 Apr, 2010:</div>
<div class="t" style="left:101px;top:40.5px;width:7.5px;height:7.5px;background:#d8101c"></div>
<div class="t hl cr" style="left:113px;top:40px">Created</div>
<div class="t hl" style="left:154px;top:40px">588</div>
<div class="t" style="left:186px;top:40.5px;width:7.5px;height:7.5px;background:#3ea83a"></div>
<div class="t hl gr" style="left:197px;top:40px">Resolved</div>
<div class="t hl" style="left:245px;top:40px">554</div>
<div class="t" style="left:27px;top:301px;width:7.5px;height:7.5px;background:#d8101c"></div>
<div class="t hl cr" style="left:39px;top:301px">Created</div>
<div class="t hl" style="left:81px;top:301px">0</div>
<div class="t" style="left:100.5px;top:301px;width:7.5px;height:7.5px;background:#3ea83a"></div>
<div class="t hl gr" style="left:112px;top:301px">Resolved</div>
<div class="t hl" style="left:160px;top:301px">6</div>
<div class="t lbl" style="left:22.5px;top:468.5px">From:</div>
<input class="inp" style="left:60px;width:76px" value="2009 Jun 01" readonly>
<div class="t lbl" style="left:141px;top:468.5px">To:</div>
<input class="inp" style="left:163px;width:76px" value="2010 Apr 15" readonly>
<div class="t lbl" style="left:494.5px;top:468.5px">Zoom:</div>
<div id="zb"><div style="width:32px;border-right:1px solid #c4c4c4">YTD</div><div style="width:56px;border-right:1px solid #c4c4c4;letter-spacing:-0.3px">6 Months</div><div class="sel" style="width:31px;letter-spacing:-0.4px">Max</div></div>
</body></html>
